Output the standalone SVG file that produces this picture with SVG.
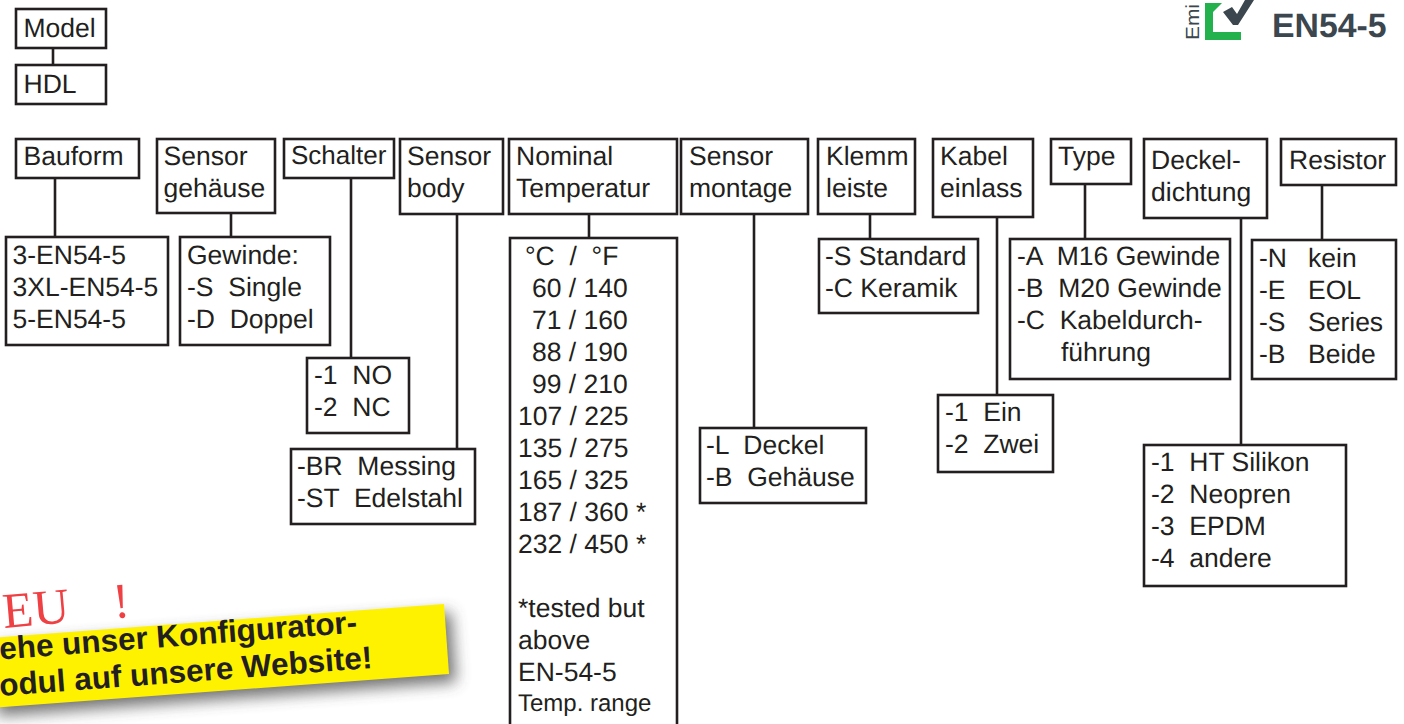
<svg xmlns="http://www.w3.org/2000/svg" width="1404" height="724" viewBox="0 0 1404 724">
<defs>
<style>
rect.b{fill:#fff;stroke:#231f20;stroke-width:2.6}
#connectors line{stroke:#231f20;stroke-width:2.6}
text{font-family:"Liberation Sans",Arial,sans-serif;font-size:26.5px;fill:#231f20;text-rendering:geometricPrecision}
</style>
<filter id="sh" x="-10%" y="-30%" width="120%" height="160%"><feGaussianBlur stdDeviation="7.500"/></filter>
</defs>
<rect width="1404" height="724" fill="#fff"/>
<g id="connectors">
<line x1="53" y1="48" x2="53" y2="65"/>
<line x1="55" y1="178" x2="55" y2="237"/>
<line x1="231" y1="213" x2="231" y2="237"/>
<line x1="351" y1="178" x2="351" y2="358"/>
<line x1="457" y1="214" x2="457" y2="449"/>
<line x1="589" y1="214" x2="589" y2="238"/>
<line x1="754" y1="214" x2="754" y2="428"/>
<line x1="870" y1="214" x2="870" y2="239"/>
<line x1="997" y1="217" x2="997" y2="395"/>
<line x1="1085" y1="184" x2="1085" y2="239"/>
<line x1="1241" y1="218" x2="1241" y2="445"/>
<line x1="1322" y1="185" x2="1322" y2="240"/>
</g>
<g id="model"><rect class="b" x="16" y="9" width="90" height="39"/><text x="23.500" y="37">Model</text></g>
<g id="hdl"><rect class="b" x="16" y="65" width="90" height="39"/><text x="23.500" y="93">HDL</text></g>
<g id="bauform"><rect class="b" x="16" y="139" width="123" height="39"/><text x="23.500" y="165">Bauform</text></g>
<g id="bauform-opts"><rect class="b" x="6" y="237" width="162" height="108"/><text x="12.500" y="264">3-EN54-5</text><text x="12.500" y="296">3XL-EN54-5</text><text x="12.500" y="328">5-EN54-5</text></g>
<g id="gehaeuse"><rect class="b" x="157" y="139" width="118" height="74"/><text x="163.500" y="165">Sensor</text><text x="163.500" y="197">gehäuse</text></g>
<g id="gehaeuse-opts"><rect class="b" x="180" y="237" width="150" height="108"/><text x="187" y="264">Gewinde:</text><text x="187" y="296" xml:space="preserve">-S  Single</text><text x="187" y="328" xml:space="preserve">-D  Doppel</text></g>
<g id="schalter"><rect class="b" x="284" y="139" width="110" height="39"/><text x="291" y="164" style="font-size:26px">Schalter</text></g>
<g id="schalter-opts"><rect class="b" x="307" y="358" width="102" height="75"/><text x="314" y="384" xml:space="preserve">-1  NO</text><text x="314" y="416" xml:space="preserve">-2  NC</text></g>
<g id="body"><rect class="b" x="400" y="139" width="103" height="75"/><text x="407" y="165">Sensor</text><text x="407" y="197">body</text></g>
<g id="body-opts"><rect class="b" x="291" y="449" width="184" height="75"/><text x="297" y="475" xml:space="preserve">-BR  Messing</text><text x="297" y="507" xml:space="preserve">-ST  Edelstahl</text></g>
<g id="nominal"><rect class="b" x="509" y="139" width="168" height="75"/><text x="516" y="165">Nominal</text><text x="516" y="197">Temperatur</text></g>
<g id="nominal-opts"><rect class="b" x="510" y="238" width="167" height="490"/>
<text x="525" y="265" xml:space="preserve">°C  /  °F</text>
<text x="532" y="297">60 / 140</text>
<text x="532" y="329">71 / 160</text>
<text x="532" y="361">88 / 190</text>
<text x="532" y="393">99 / 210</text>
<text x="518" y="425">107 / 225</text>
<text x="518" y="457">135 / 275</text>
<text x="518" y="489">165 / 325</text>
<text x="518" y="521">187 / 360 *</text>
<text x="518" y="553">232 / 450 *</text>
<text x="518" y="617">*tested but</text>
<text x="518" y="649">above</text>
<text x="518" y="681">EN-54-5</text>
<text x="518" y="711" style="font-size:24px">Temp. range</text></g>
<g id="montage"><rect class="b" x="681" y="139" width="127" height="75"/><text x="689" y="165">Sensor</text><text x="689" y="197">montage</text></g>
<g id="montage-opts"><rect class="b" x="700" y="428" width="166" height="75"/><text x="706" y="454" xml:space="preserve">-L  Deckel</text><text x="706" y="486" xml:space="preserve">-B  Gehäuse</text></g>
<g id="klemm"><rect class="b" x="818" y="139" width="97" height="75"/><text x="826" y="165">Klemm</text><text x="826" y="197">leiste</text></g>
<g id="klemm-opts"><rect class="b" x="819" y="239" width="159" height="74"/><text x="825" y="265">-S Standard</text><text x="825" y="297">-C Keramik</text></g>
<g id="kabel"><rect class="b" x="933" y="139" width="100" height="78"/><text x="940" y="165">Kabel</text><text x="940" y="197">einlass</text></g>
<g id="kabel-opts"><rect class="b" x="938" y="395" width="115" height="77"/><text x="945" y="421" xml:space="preserve">-1  Ein</text><text x="945" y="453" xml:space="preserve">-2  Zwei</text></g>
<g id="type"><rect class="b" x="1051" y="139" width="80" height="45"/><text x="1058" y="165">Type</text></g>
<g id="type-opts"><rect class="b" x="1010" y="239" width="220" height="140"/><text x="1017" y="265" xml:space="preserve">-A  M16 Gewinde</text><text x="1017" y="297" xml:space="preserve">-B  M20 Gewinde</text><text x="1017" y="329" xml:space="preserve">-C  Kabeldurch-</text><text x="1061" y="361">führung</text></g>
<g id="deckel"><rect class="b" x="1144" y="139" width="123" height="79"/><text x="1151" y="169">Deckel-</text><text x="1151" y="201">dichtung</text></g>
<g id="deckel-opts"><rect class="b" x="1144" y="445" width="202" height="141"/><text x="1151" y="471" xml:space="preserve">-1  HT Silikon</text><text x="1151" y="503" xml:space="preserve">-2  Neopren</text><text x="1151" y="535" xml:space="preserve">-3  EPDM</text><text x="1151" y="567" xml:space="preserve">-4  andere</text></g>
<g id="resistor"><rect class="b" x="1281" y="139" width="115" height="46"/><text x="1289" y="169">Resistor</text></g>
<g id="resistor-opts"><rect class="b" x="1252" y="240" width="144" height="139"/>
<text x="1259" y="267">-N</text><text x="1308" y="267">kein</text>
<text x="1259" y="299">-E</text><text x="1308" y="299">EOL</text>
<text x="1259" y="331">-S</text><text x="1308" y="331">Series</text>
<text x="1259" y="363">-B</text><text x="1308" y="363">Beide</text></g>
<g id="logo">
<text transform="translate(1199 40) rotate(-90)" style="font-size:19px;fill:#3b464e" textLength="36" lengthAdjust="spacingAndGlyphs">Emi</text>
<path d="M1205 3H1222L1213 12V32H1241V40H1205Z" fill="#22b14c"/>
<path d="M1223 12L1232 7L1237 14L1245 0H1254L1238 25H1233Z" fill="#3b464e"/>
<text x="1272" y="37" style="font-size:33.800px;font-weight:700;fill:#3b464e">EN54-5</text>
</g>
<g id="promo">
<text transform="translate(4 628) rotate(-5)" xml:space="preserve" style="font-family:'Liberation Serif',serif;font-size:50px;fill:#ef4044">EU<tspan dx="44">!</tspan></text>
<path d="M-10 708L449 674L444 604L-10 638Z" fill="#444" opacity=".75" filter="url(#sh)" transform="translate(7 8)"/>
<path d="M-10 708L449 674L444 604L-10 638Z" fill="#fff200"/>
<text transform="translate(0 659.500) rotate(-4.300)" style="font-size:31.500px;font-weight:700">ehe unser Konfigurator-</text>
<text transform="translate(0 696) rotate(-4.300)" style="font-size:31.500px;font-weight:700">odul auf unsere Website!</text>
</g>
</svg>
